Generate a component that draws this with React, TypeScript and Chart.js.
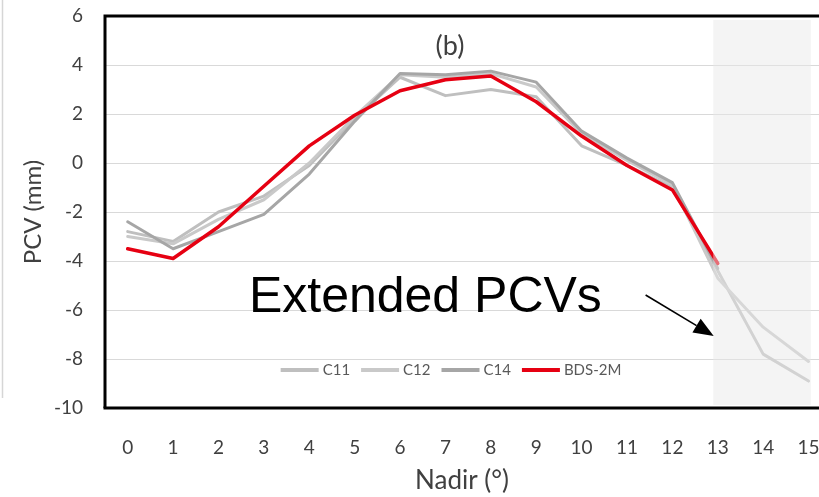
import React, { useEffect, useRef } from "react";
import { Chart, registerables } from "chart.js";

Chart.register(...registerables);

// ---- data ----
const nadir = [0, 1, 2, 3, 4, 5, 6, 7, 8, 9, 10, 11, 12, 13, 14, 15];
const c11 = [-2.8, -3.2, -2.0, -1.35, -0.1, 1.8, 3.5, 2.75, 3.0, 2.7, 0.7, -0.1, -1.0, -4.4, -7.8, -8.9];
const c12 = [-3.0, -3.3, -2.3, -1.5, 0.0, 1.9, 3.6, 3.5, 3.65, 3.1, 1.2, 0.1, -0.9, -4.7, -6.7, -8.1];
const c14 = [-2.4, -3.5, -2.8, -2.1, -0.45, 1.7, 3.65, 3.6, 3.75, 3.3, 1.3, 0.2, -0.8, -4.3];
const bds2m = [-3.5, -3.9, -2.6, -0.95, 0.7, 1.95, 2.95, 3.4, 3.55, 2.5, 1.1, -0.1, -1.1, -4.1];
const seriesNames = ["C11", "C12", "C14", "BDS-2M"];
const seriesColors = ["#bfbfbf", "#c9c9c9", "#a6a6a6", "#e60012"];
const yTicks = [-10, -8, -6, -4, -2, 0, 2, 4, 6];
const extendedRange = [12.9, 15.05];

const FONT = "Lato, 'Open Sans', sans-serif";
const TXT = "#404040";

const pts = (arr: number[]) => arr.map((v, i) => ({ x: nadir[i], y: v }));

const decor = {
  id: "decor",
  beforeDraw(chart: any) {
    const { ctx } = chart;
    ctx.save();
    ctx.strokeStyle = "#d6d6d6";
    ctx.lineWidth = 1.5;
    ctx.beginPath();
    ctx.moveTo(2.5, 0);
    ctx.lineTo(2.5, 398);
    ctx.stroke();
    ctx.restore();
  },
  afterDatasetsDraw(chart: any) {
    const { ctx, chartArea: ca, scales } = chart;
    const x = scales.x, y = scales.y;
    ctx.save();
    // shaded "extended" region overlay
    const l = x.getPixelForValue(extendedRange[0]);
    const r = x.getPixelForValue(extendedRange[1]);
    ctx.fillStyle = "rgba(232,232,232,0.47)";
    ctx.fillRect(l, ca.top + 4, r - l, ca.bottom - ca.top - 7);

    // frame
    ctx.strokeStyle = "#000";
    ctx.lineWidth = 3;
    ctx.beginPath();
    ctx.moveTo(ca.left, ca.bottom);
    ctx.lineTo(ca.left, ca.top);
    ctx.lineTo(ca.right, ca.top);
    ctx.stroke();
    ctx.beginPath();
    ctx.moveTo(ca.left - 1.5, ca.bottom);
    ctx.lineTo(ca.right, ca.bottom);
    ctx.stroke();

    // (b)
    ctx.fillStyle = TXT;
    ctx.font = `27px ${FONT}`;
    ctx.textAlign = "center";
    ctx.textBaseline = "middle";
    ctx.fillText("(b)", x.getPixelForValue(7.1), y.getPixelForValue(4.75));

    // Extended PCVs
    ctx.fillStyle = "#000";
    ctx.font = "50px 'Liberation Sans', Arial, sans-serif";
    ctx.textAlign = "left";
    ctx.textBaseline = "alphabetic";
    ctx.fillText("Extended PCVs", x.getPixelForValue(2.67), y.getPixelForValue(-6.08));

    // arrow
    const ax0 = x.getPixelForValue(11.41), ay0 = y.getPixelForValue(-5.39);
    const ax1 = x.getPixelForValue(12.91), ay1 = y.getPixelForValue(-7.06);
    const ang = Math.atan2(ay1 - ay0, ax1 - ax0);
    const hl = 20, hw = 8;
    const bx = ax1 - hl * Math.cos(ang), by = ay1 - hl * Math.sin(ang);
    ctx.strokeStyle = "#000";
    ctx.lineWidth = 1.6;
    ctx.beginPath();
    ctx.moveTo(ax0, ay0);
    ctx.lineTo(bx, by);
    ctx.stroke();
    ctx.fillStyle = "#000";
    ctx.beginPath();
    ctx.moveTo(ax1, ay1);
    ctx.lineTo(bx + hw * Math.sin(ang), by - hw * Math.cos(ang));
    ctx.lineTo(bx - hw * Math.sin(ang), by + hw * Math.cos(ang));
    ctx.closePath();
    ctx.fill();

    // legend
    let lx = x.getPixelForValue(3.37);
    const ly = y.getPixelForValue(-8.45);
    ctx.font = `15px ${FONT}`;
    ctx.textBaseline = "middle";
    ctx.textAlign = "left";
    chart.data.datasets.forEach((ds: any) => {
      ctx.strokeStyle = ds.borderColor;
      ctx.lineWidth = 4;
      ctx.beginPath();
      ctx.moveTo(lx, ly);
      ctx.lineTo(lx + 38, ly);
      ctx.stroke();
      lx += 42;
      ctx.fillStyle = "#595959";
      ctx.fillText(ds.label, lx, ly);
      lx += ctx.measureText(ds.label).width + 11;
    });
    ctx.restore();
  },
};

export default function App() {
  const ref = useRef<HTMLCanvasElement | null>(null);
  useEffect(() => {
    document.body.style.margin = "0";
    const canvas = ref.current!;
    const allData = [c11, c12, c14, bds2m];
    const chart = new Chart(canvas, {
      type: "line",
      data: {
        datasets: allData.map((d, i) => ({
          label: seriesNames[i],
          data: pts(d),
          borderColor: seriesColors[i],
          backgroundColor: seriesColors[i],
          borderWidth: i === 3 ? 3.5 : 3,
          pointRadius: 0,
          tension: 0,
          borderJoinStyle: "round" as const,
          borderCapStyle: "round" as const,
          order: i === 3 ? 0 : 3 - i + 1,
        })),
      },
      options: {
        animation: false,
        responsive: false,
        devicePixelRatio: 1,
        layout: { padding: { top: 16, left: 0, right: 0, bottom: 0 } },
        plugins: { legend: { display: false }, tooltip: { enabled: false } },
        scales: {
          x: {
            type: "linear",
            min: -0.5,
            max: 15.23,
            afterBuildTicks: (axis: any) => {
              axis.ticks = nadir.map((v) => ({ value: v }));
            },
            afterFit: (s: any) => {
              s.height = 89;
              s.paddingLeft = 0;
              s.paddingRight = 0;
            },
            grid: { display: false },
            border: { display: false },
            ticks: {
              padding: 20,
              color: TXT,
              font: { family: FONT, size: 19 },
              maxRotation: 0,
              autoSkip: false,
            },
            title: {
              display: true,
              text: "Nadir (°)",
              color: TXT,
              font: { family: FONT, size: 26 },
              padding: { top: 0, bottom: 1 },
            },
          },
          y: {
            min: -10,
            max: 6,
            afterBuildTicks: (axis: any) => {
              axis.ticks = yTicks.map((v) => ({ value: v }));
            },
            afterFit: (s: any) => {
              s.width = 105;
              s.paddingTop = 0;
              s.paddingBottom = 0;
            },
            grid: {
              drawTicks: false,
              color: (c: any) =>
                c.tick && (c.tick.value === 6 || c.tick.value === -10) ? "rgba(0,0,0,0)" : "#d9d9d9",
              lineWidth: 1,
            },
            border: { display: false },
            ticks: {
              padding: 22,
              color: TXT,
              font: { family: FONT, size: 19 },
            },
            title: {
              display: true,
              text: "PCV (mm)",
              color: TXT,
              font: { family: FONT, size: 24 },
              padding: { top: 19, bottom: 0 },
            },
          },
        },
      },
      plugins: [decor],
    });
    return () => chart.destroy();
  }, []);
  return (
    <canvas
      ref={ref}
      width={819}
      height={497}
      style={{ display: "block", width: 819, height: 497 }}
    />
  );
}
